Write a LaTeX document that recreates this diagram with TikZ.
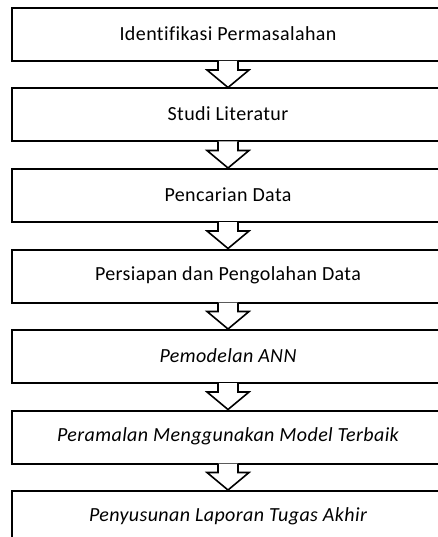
\documentclass[tikz,border=0pt]{standalone}
\usepackage{fontspec}
\setmainfont{Carlito}[LetterSpace=2,Ligatures=NoCommon]
\usetikzlibrary{calc}
\begin{document}
\begin{tikzpicture}[x=1pt,y=-1pt,
  stepbox/.style={draw=black,line width=2pt,minimum width=430pt,minimum height=53pt,inner sep=0pt,anchor=north west},
  steptext/.style={font=\fontsize{20}{24}\selectfont},
  steptextit/.style={font=\fontsize{20}{24}\selectfont\itshape},
  flowarrow/.style={draw=black,fill=white,line width=1.6pt,line join=miter}]
\useasboundingbox (0,0) rectangle (438,537);
\clip (0,0) rectangle (438,537);
\node[stepbox] (b1) at (11,7) {};
\node[stepbox] (b2) at (11,87.5) {};
\node[stepbox] (b3) at (11,168) {};
\node[stepbox] (b4) at (11,248.5) {};
\node[stepbox] (b5) at (11,329) {};
\node[stepbox] (b6) at (11,409.5) {};
\node[stepbox] (b7) at (11,490) {};
\node[steptext] (t1) at (228,33.5) {Identifikasi Permasalahan};
\node[steptext] (t2) at (228,114) {Studi Literatur};
\node[steptext] (t3) at (228,194.5) {Pencarian Data};
\node[steptext] (t4) at (228,275) {Persiapan dan Pengolahan Data};
\node[steptextit] (t5) at (228,355.5) {Pemodelan ANN};
\node[steptextit] (t6) at (228,436) {Peramalan Menggunakan Model Terbaik};
\node[steptextit] (t7) at (228,516.5) {Penyusunan Laporan Tugas Akhir};
\foreach \a/\b in {b1/b2,b2/b3,b3/b4,b4/b5,b5/b6,b6/b7}{
  \path (\a.south west) ++(207,0) coordinate (sl);
  \path (\b.north west) ++(217,0) coordinate (tl);
  \draw[flowarrow] ($(sl)+(0,-1)$) -- ($(sl)+(0,8)$) -- ($(sl)+(-11,8)$) -- (tl) -- ($(sl)+(31,8)$) -- ($(sl)+(20,8)$) -- ($(sl)+(20,-1)$);
}
\end{tikzpicture}
\end{document}
